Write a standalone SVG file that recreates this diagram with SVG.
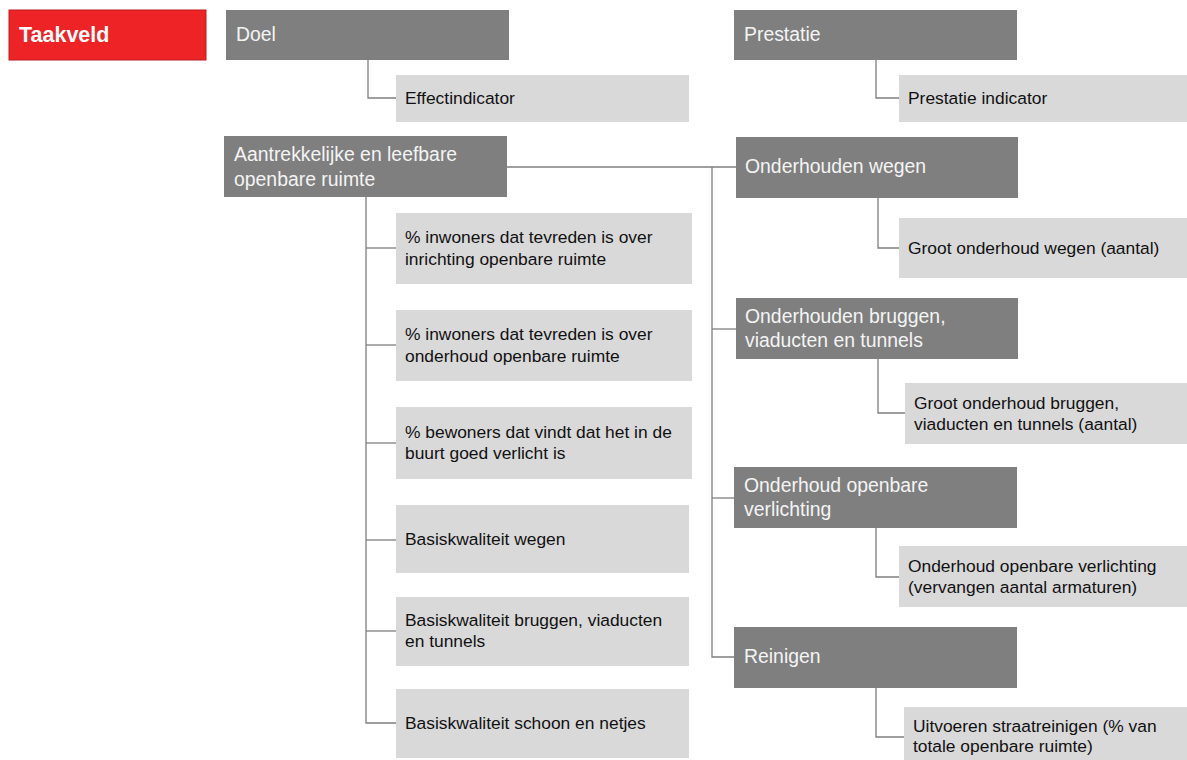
<svg xmlns="http://www.w3.org/2000/svg" width="1187" height="760" viewBox="0 0 1187 760">
<style>
.hd{fill:#7f7f7f}
.ind{fill:#d9d9d9}
.ht{font-family:"Liberation Sans",Arial,sans-serif;font-size:19.4px;fill:#f4f4f4}
.it{font-family:"Liberation Sans",Arial,sans-serif;font-size:17.4px;fill:#111}
.cn{fill:none;stroke:#7f7f7f;stroke-width:1.3}
</style>
<rect width="1187" height="760" fill="#fff"/>
<g id="connectors">
<path class="cn" d="M368 60V98H396"/>
<path class="cn" d="M876 60V98H899"/>
<path class="cn" d="M507 167H736"/>
<path class="cn" d="M712 167V657H734"/>
<path class="cn" d="M712 329H736"/>
<path class="cn" d="M712 498H734"/>
<path class="cn" d="M366 197V723H396"/>
<path class="cn" d="M366 248H396"/>
<path class="cn" d="M366 345H396"/>
<path class="cn" d="M366 443H396"/>
<path class="cn" d="M366 540H396"/>
<path class="cn" d="M366 631H396"/>
<path class="cn" d="M878 198V248H899"/>
<path class="cn" d="M878 359V413H905"/>
<path class="cn" d="M876 528V577H899"/>
<path class="cn" d="M876 688V737H904"/>
</g>
<g id="taakveld">
<rect x="9" y="10" width="197" height="50" fill="#ee2326" stroke="#b81c20" stroke-width="1"/>
<text x="19" y="42" font-family="'Liberation Sans',Arial,sans-serif" font-size="21.5" font-weight="bold" fill="#fff">Taakveld</text>
</g>
<g id="doel"><rect class="hd" x="226" y="10" width="283" height="50"/><text class="ht" x="236" y="41">Doel</text></g>
<g id="effectindicator"><rect class="ind" x="396" y="75" width="293" height="47"/><text class="it" x="405" y="104">Effectindicator</text></g>
<g id="prestatie"><rect class="hd" x="734" y="10" width="283" height="50"/><text class="ht" x="744" y="41">Prestatie</text></g>
<g id="prestatie-indicator"><rect class="ind" x="899" y="75" width="288" height="47"/><text class="it" x="908" y="104">Prestatie indicator</text></g>
<g id="doel-openbare-ruimte"><rect class="hd" x="224" y="136" width="283" height="61"/><text class="ht" x="234" y="161">Aantrekkelijke en leefbare</text><text class="ht" x="234" y="186">openbare ruimte</text></g>
<g id="e1"><rect class="ind" x="396" y="213" width="296" height="71"/><text class="it" x="405" y="243">% inwoners dat tevreden is over</text><text class="it" x="405" y="265">inrichting openbare ruimte</text></g>
<g id="e2"><rect class="ind" x="396" y="310" width="296" height="71"/><text class="it" x="405" y="340">% inwoners dat tevreden is over</text><text class="it" x="405" y="362">onderhoud openbare ruimte</text></g>
<g id="e3"><rect class="ind" x="396" y="407" width="296" height="72"/><text class="it" x="405" y="438">% bewoners dat vindt dat het in de</text><text class="it" x="405" y="459">buurt goed verlicht is</text></g>
<g id="e4"><rect class="ind" x="396" y="505" width="293" height="68"/><text class="it" x="405" y="545">Basiskwaliteit wegen</text></g>
<g id="e5"><rect class="ind" x="396" y="597" width="293" height="69"/><text class="it" x="405" y="626">Basiskwaliteit bruggen, viaducten</text><text class="it" x="405" y="647">en tunnels</text></g>
<g id="e6"><rect class="ind" x="396" y="689" width="293" height="69"/><text class="it" x="405" y="729">Basiskwaliteit schoon en netjes</text></g>
<g id="p1"><rect class="hd" x="736" y="137" width="282" height="61"/><text class="ht" x="745" y="173">Onderhouden wegen</text></g>
<g id="i1"><rect class="ind" x="899" y="218" width="288" height="60"/><text class="it" x="908" y="254">Groot onderhoud wegen (aantal)</text></g>
<g id="p2"><rect class="hd" x="736" y="298" width="282" height="61"/><text class="ht" x="745" y="323">Onderhouden bruggen,</text><text class="ht" x="745" y="347">viaducten en tunnels</text></g>
<g id="i2"><rect class="ind" x="905" y="383" width="282" height="61"/><text class="it" x="914" y="409">Groot onderhoud bruggen,</text><text class="it" x="914" y="430">viaducten en tunnels (aantal)</text></g>
<g id="p3"><rect class="hd" x="734" y="467" width="283" height="61"/><text class="ht" x="744" y="492">Onderhoud openbare</text><text class="ht" x="744" y="516">verlichting</text></g>
<g id="i3"><rect class="ind" x="899" y="546" width="288" height="61"/><text class="it" x="908" y="572">Onderhoud openbare verlichting</text><text class="it" x="908" y="593">(vervangen aantal armaturen)</text></g>
<g id="p4"><rect class="hd" x="734" y="627" width="283" height="61"/><text class="ht" x="744" y="663">Reinigen</text></g>
<g id="i4"><rect class="ind" x="904" y="707" width="283" height="53"/><text class="it" x="913" y="732">Uitvoeren straatreinigen (% van</text><text class="it" x="913" y="752">totale openbare ruimte)</text></g>
</svg>
